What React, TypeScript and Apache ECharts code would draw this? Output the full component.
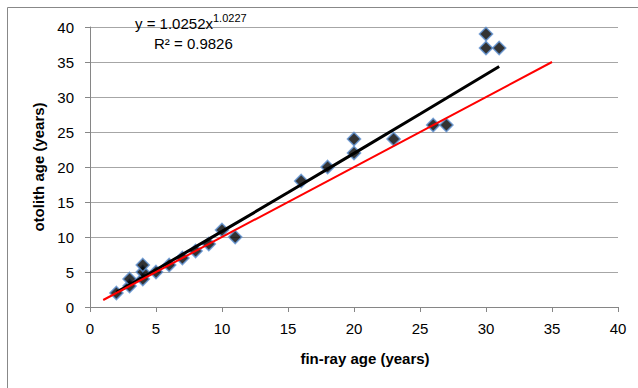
import React, { useEffect, useRef } from "react";
import * as echarts from "echarts";

// Observed data points (fin-ray age vs otolith age)
const finRayAge = [2, 3, 3, 4, 4, 4, 5, 6, 7, 8, 9, 10, 11, 16, 18, 20, 20, 23, 26, 27, 30, 30, 31];
const otolithAge = [2, 3, 4, 4, 5, 6, 5, 6, 7, 8, 9, 11, 10, 18, 20, 22, 24, 24, 26, 26, 37, 39, 37];

// Power trendline (y = 1.0252x^1.0227) read at a few positions
const trendX = [2, 5, 10, 15, 20, 25, 31];
const trendY = [2.09, 5.32, 10.8, 16.35, 21.95, 27.57, 34.36];

// 1:1 reference line
const refX = [1, 35];
const refY = [1, 35];

const equationText = "y = 1.0252x";
const equationExp = "1.0227";
const r2Text = "R² = 0.9826";
const xTitle = "fin-ray age (years)";
const yTitle = "otolith age (years)";

const FONT = "Liberation Sans";

export default function App() {
  const ref = useRef<HTMLDivElement>(null);

  useEffect(() => {
    if (!ref.current) return;
    const chart = echarts.init(ref.current, undefined, { renderer: "svg" });
    const axisCommon = {
      type: "value" as const,
      min: 0,
      max: 40,
      interval: 5,
      axisLine: { show: true, lineStyle: { color: "#868686", width: 1 } },
      axisTick: { show: true, inside: false, length: 5, lineStyle: { color: "#868686" } },
      axisLabel: { color: "#000", fontFamily: FONT, fontSize: 15 },
    };
    chart.setOption({
      animation: false,
      backgroundColor: "#fff",
      grid: { left: 90, top: 27, right: 20, bottom: 81, containLabel: false },
      xAxis: {
        ...axisCommon,
        splitLine: { show: false },
        axisLabel: { ...axisCommon.axisLabel, margin: 14 },
        name: xTitle,
        nameLocation: "middle",
        nameGap: 44,
        nameTextStyle: {
          fontFamily: FONT,
          fontSize: 15,
          fontWeight: "bold",
          color: "#000",
          padding: [0, 0, 0, 22],
        },
      },
      yAxis: {
        ...axisCommon,
        splitLine: { show: true, lineStyle: { color: "#a6a6a6", width: 1 } },
        axisLabel: { ...axisCommon.axisLabel, margin: 16 },
        name: yTitle,
        nameLocation: "middle",
        nameGap: 36,
        nameTextStyle: {
          fontFamily: FONT,
          fontSize: 15,
          fontWeight: "bold",
          color: "#000",
        },
      },
      series: [
        {
          type: "scatter",
          data: finRayAge.map((x, i) => [x, otolithAge[i]]),
          symbol: "diamond",
          symbolSize: 13,
          itemStyle: { color: "#000", borderColor: "#5b8fd0", borderWidth: 1.6 },
          z: 2,
        },
        {
          type: "line",
          data: trendX.map((x, i) => [x, trendY[i]]),
          showSymbol: false,
          symbol: "none",
          lineStyle: { color: "#000", width: 3 },
          z: 3,
        },
        {
          type: "line",
          data: refX.map((x, i) => [x, refY[i]]),
          showSymbol: false,
          symbol: "none",
          lineStyle: { color: "#ff0000", width: 2 },
          z: 4,
        },
      ],
      graphic: [
        {
          type: "rect",
          shape: { x: 7.5, y: 7.5, width: 700, height: 500 },
          style: { fill: "none", stroke: "#888", lineWidth: 1 },
          silent: true,
          z: -10,
        },
        {
          type: "text",
          x: 135,
          y: 23,
          style: {
            text: `{a|${equationText}}{b|${equationExp}}`,
            verticalAlign: "middle",
            align: "left",
            rich: {
              a: { fontFamily: FONT, fontSize: 15, lineHeight: 22, fill: "#000", color: "#000" },
              b: {
                fontFamily: FONT,
                fontSize: 11,
                lineHeight: 11,
                verticalAlign: "top",
                fill: "#000",
                color: "#000",
              },
            },
          },
          z: 100,
        },
        {
          type: "text",
          x: 154,
          y: 43,
          style: {
            text: r2Text,
            fontFamily: FONT,
            fontSize: 15,
            fill: "#000",
            align: "left",
            verticalAlign: "middle",
          },
          z: 100,
        },
      ],
    });
    return () => chart.dispose();
  }, []);

  return (
    <div
      ref={ref}
      style={{ position: "fixed", left: 0, top: 0, width: 638, height: 388, background: "#fff" }}
    />
  );
}
